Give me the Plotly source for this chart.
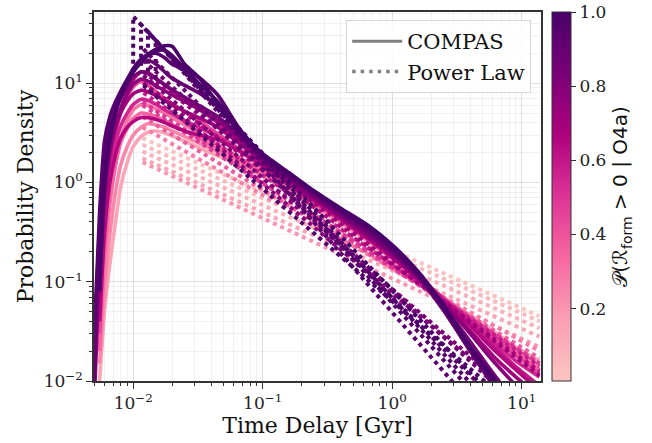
import plotly.graph_objects as go
from plotly.colors import sample_colorscale
import numpy as np

# ---------------- data ----------------
compas_t = [0.005, 0.0055, 0.006, 0.0066, 0.0073, 0.008, 0.009, 0.010, 0.0115, 0.013, 0.015,
            0.0175, 0.02, 0.025, 0.032, 0.045, 0.065, 0.1, 0.16, 0.25, 0.4, 0.65, 1.0, 1.6,
            2.5, 4.0, 6.0, 9.0, 13.7]

compas_prob = [0.15, 0.25, 0.30, 0.35, 0.45, 0.55, 0.60, 0.65, 0.70, 0.78, 0.85, 0.90, 0.95,
               0.98, 1.00]

compas_p = [
    # 0.15
    [None, 0.01, 0.05, 0.15, 0.4, 0.9, 1.6, 2.3, 2.9, 3.2, 3.3, 3.15, 2.95, 2.6, 2.25, 1.85, 1.5,
     1.15, 0.82, 0.57, 0.39, 0.255, 0.168, 0.107, 0.069, 0.046, 0.032, 0.022, 0.016],
    # 0.25
    [None, 0.015, 0.08, 0.3, 0.8, 1.5, 2.3, 3.0, 3.6, 3.9, 3.8, 3.6, 3.3, 2.9, 2.5, 2.05, 1.6,
     1.22, 0.86, 0.59, 0.40, 0.26, 0.17, 0.107, 0.068, 0.045, 0.030, 0.020, 0.014],
    # 0.30
    [None, 0.02, 0.15, 0.6, 1.5, 2.8, 4.2, 5.4, 6.1, 6.0, 5.5, 5.0, 4.5, 3.8, 3.1, 2.4, 1.8,
     1.32, 0.91, 0.62, 0.41, 0.265, 0.172, 0.108, 0.068, 0.044, 0.029, 0.019, 0.013],
    # 0.35
    [None, 0.02, 0.2, 0.7, 1.5, 2.5, 3.5, 4.4, 5.0, 4.9, 4.6, 4.2, 3.8, 3.3, 2.8, 2.2, 1.7,
     1.3, 0.9, 0.61, 0.41, 0.265, 0.172, 0.108, 0.068, 0.044, 0.029, 0.019, 0.013],
    # 0.45
    [None, 0.03, 0.35, 1.3, 3.0, 5.0, 7.3, 9.2, 10.5, 9.6, 8.2, 7.0, 6.2, 5.2, 4.2, 3.1, 2.2,
     1.45, 0.96, 0.64, 0.42, 0.27, 0.178, 0.11, 0.068, 0.042, 0.027, 0.018, 0.012],
    # 0.55
    [None, 0.05, 0.4, 1.3, 2.5, 3.7, 5.0, 6.1, 6.9, 6.7, 6.1, 5.4, 4.9, 4.2, 3.6, 2.9, 2.1,
     1.45, 0.97, 0.64, 0.42, 0.27, 0.175, 0.108, 0.066, 0.040, 0.025, 0.016, 0.011],
    # 0.60
    [None, 0.06, 0.5, 1.6, 3.4, 5.5, 8.2, 10.8, 13.0, 12.8, 11.2, 9.6, 8.4, 6.8, 5.5, 4.0, 2.6,
     1.6, 1.03, 0.68, 0.45, 0.29, 0.185, 0.112, 0.066, 0.038, 0.023, 0.014, 0.009],
    # 0.65
    [None, 0.04, 0.3, 1.0, 1.9, 2.8, 3.6, 4.1, 4.5, 4.5, 4.3, 4.0, 3.7, 3.3, 3.0, 2.7, 2.1,
     1.5, 1.0, 0.66, 0.43, 0.27, 0.175, 0.105, 0.062, 0.036, 0.021, 0.013, 0.008],
    # 0.70
    [0.006, 0.15, 0.9, 2.2, 3.6, 5.0, 6.6, 7.8, 8.5, 8.2, 7.5, 6.7, 6.0, 5.2, 4.5, 3.6, 2.5,
     1.6, 1.02, 0.67, 0.44, 0.28, 0.18, 0.105, 0.06, 0.032, 0.018, 0.011, 0.007],
    # 0.78
    [None, 0.1, 0.7, 2.0, 3.8, 5.5, 7.8, 9.8, 11.0, 10.5, 9.4, 8.4, 7.6, 6.5, 5.5, 4.2, 2.8,
     1.7, 1.08, 0.70, 0.46, 0.29, 0.19, 0.11, 0.06, 0.03, 0.016, 0.009, 0.005],
    # 0.85
    [0.02, 0.35, 1.8, 3.5, 5.2, 7.0, 9.3, 11.5, 13.0, 12.5, 11.0, 9.6, 8.6, 7.2, 6.0, 4.6, 3.0,
     1.75, 1.1, 0.72, 0.47, 0.31, 0.195, 0.11, 0.056, 0.025, 0.012, 0.006, None],
    # 0.90
    [0.01, 0.25, 1.5, 3.5, 5.5, 7.5, 10.0, 13.0, 16.0, 17.0, 15.5, 13.0, 11.2, 9.5, 8.0, 5.8, 3.3,
     1.8, 1.15, 0.76, 0.50, 0.33, 0.205, 0.11, 0.051, 0.02, 0.009, None, None],
    # 0.95
    [0.03, 0.5, 2.6, 4.6, 6.5, 8.3, 11.0, 14.0, 17.5, 19.5, 20.0, 18.0, 15.5, 13.5, 11.5, 7.6, 3.6,
     1.85, 1.2, 0.80, 0.52, 0.35, 0.22, 0.118, 0.055, 0.022, 0.010, None, None],
    # 0.98
    [None, 0.15, 1.2, 3.0, 5.2, 7.6, 10.5, 13.0, 16.5, 19.0, 21.0, 21.5, 19.0, 14.0, 10.0, 6.5, 3.5,
     1.9, 1.22, 0.80, 0.53, 0.35, 0.225, 0.12, 0.055, 0.021, 0.010, None, None],
    # 1.00
    [None, 0.08, 0.9, 2.6, 5.0, 7.5, 10.5, 13.5, 17.0, 19.5, 22.0, 23.8, 23.5, 15.5, 11.5, 6.2, 3.3,
     1.95, 1.25, 0.82, 0.55, 0.37, 0.235, 0.125, 0.058, 0.022, 0.011, 0.005, None],
]

# power-law curves: [foot, peak, end] times and densities
pl_prob = [0.02, 0.06, 0.10, 0.15, 0.20, 0.28, 0.38, 0.48, 0.50, 0.58, 0.65, 0.72,
           0.78, 0.82, 0.86, 0.90, 0.93, 0.95, 0.97, 0.98, 1.00]
pl_t = [
    [0.0118, 0.0118, 13.7], [0.0118, 0.0118, 13.7], [0.0118, 0.0118, 13.7],
    [0.0118, 0.0118, 13.7], [0.0118, 0.0118, 13.7], [0.0118, 0.0118, 13.7],
    [0.0118, 0.0118, 13.7], [0.0118, 0.0118, 13.7], [0.0118, 0.0118, 13.7],
    [0.012, 0.012, 13.7], [0.012, 0.012, 13.7], [0.012, 0.012, 13.7],
    [0.012, 0.012, 13.7], [0.012, 0.012, 13.7], [0.012, 0.012, 13.7],
    [0.012, 0.012, 13.7], [0.0149, 0.0149, 13.7], [0.013, 0.013, 13.7],
    [0.0115, 0.0115, 13.7], [0.012, 0.012, 13.7], [0.0100, 0.0100, 13.7],
]
pl_p = [
    [2.8, 2.8, 0.045], [2.4, 2.4, 0.040], [2.05, 2.05, 0.034],
    [1.75, 1.75, 0.028], [1.6, 1.6, 0.022], [3.6, 3.6, 0.020],
    [4.6, 4.6, 0.017], [6.0, 6.0, 0.015], [6.5, 6.5, 0.015],
    [8.0, 8.0, 0.0141], [10.0, 10.0, 0.0125], [13.0, 13.0, 0.0114],
    [10.0, 10.0, 0.0043], [12.0, 12.0, 0.0045], [17.0, 17.0, 0.0036],
    [22.0, 22.0, 0.0023], [11.0, 27.0, 0.00097], [13.0, 33.0, 0.00138],
    [15.0, 39.0, 0.00167], [9.5, 9.5, 0.0033], [13.0, 47.0, 0.0022],
]

x_tickvals = [0.01, 0.1, 1, 10]
x_ticktext = ["10<sup>−2</sup>", "10<sup>−1</sup>", "10<sup>0</sup>", "10<sup>1</sup>"]
y_tickvals = [0.01, 0.1, 1, 10]
y_ticktext = ["10<sup>−2</sup>", "10<sup>−1</sup>", "10<sup>0</sup>", "10<sup>1</sup>"]
cbar_ticks = [0.2, 0.4, 0.6, 0.8, 1.0]
cbar_text = ["0.2", "0.4", "0.6", "0.8", "1.0"]

# ---------------- style ----------------
cscale = [[0.0, "#fcc5c0"], [0.1667, "#fa9fb5"], [0.3333, "#f768a1"], [0.5, "#dd3497"],
          [0.6667, "#ae017e"], [0.8333, "#7a0177"], [1.0, "#49006a"]]
CMIN, CMAX = 0.005, 1.0


def col(v):
    return sample_colorscale(cscale, [(v - CMIN) / (CMAX - CMIN)])[0]


serif = "DejaVu Serif"
fig = go.Figure()

items = [("c", v, i) for i, v in enumerate(compas_prob)] + [("p", v, i) for i, v in enumerate(pl_prob)]
items.sort(key=lambda a: a[1])
for kind, v, i in items:
    if kind == "c":
        fig.add_trace(go.Scatter(x=compas_t, y=compas_p[i], mode="lines",
                                 line=dict(color=col(v), width=3.6, shape="spline", smoothing=0.6),
                                 connectgaps=False, showlegend=False, hoverinfo="skip"))
    else:
        fig.add_trace(go.Scatter(x=pl_t[i], y=pl_p[i], mode="lines",
                                 line=dict(color=col(v), width=4, dash="4px,4px"),
                                 showlegend=False, hoverinfo="skip"))

fig.add_trace(go.Scatter(x=[None], y=[None], mode="lines", name="COMPAS",
                         line=dict(color="#808080", width=3)))
fig.add_trace(go.Scatter(x=[None], y=[None], mode="lines", name="Power Law",
                         line=dict(color="#808080", width=3.5, dash="3.5px,5px")))

fig.add_trace(go.Scatter(
    x=[0.01, 0.01], y=[1, 1], mode="markers", showlegend=False, hoverinfo="skip",
    marker=dict(size=0.1, opacity=0, color=[CMIN, CMAX], cmin=CMIN, cmax=CMAX,
                colorscale=cscale, showscale=True,
                colorbar=dict(x=1.0246, xanchor="left", xpad=0, y=0.5, yanchor="middle",
                              ypad=0, len=1, lenmode="fraction", thickness=19,
                              outlinewidth=1, outlinecolor="#333",
                              tickmode="array", tickvals=cbar_ticks, ticktext=cbar_text,
                              ticks="outside", ticklen=5, tickcolor="#333",
                              tickfont=dict(family=serif, size=17, color="#222"),
                              title=dict(text="𝒫(ℛ<sub>form</sub> > 0 | O4a)", side="right",
                                         font=dict(family="DejaVu Sans", size=20, color="#111"))))))

minor_x = [m * 10.0 ** k for k in range(-3, 2) for m in range(2, 10)]
minor_y = [m * 10.0 ** k for k in range(-2, 2) for m in range(2, 10)]

axis_common = dict(type="log", showline=True, linecolor="#333", linewidth=1.5, mirror=True,
                   ticks="outside", ticklen=6, tickwidth=1.2, tickcolor="#333",
                   tickfont=dict(family=serif, size=17, color="#222"),
                   showgrid=True, gridcolor="rgba(0,0,0,0.12)", gridwidth=1, zeroline=False,
                   tickmode="array")

fig.update_xaxes(**axis_common, range=[np.log10(0.00498), np.log10(14.1)],
                 tickvals=x_tickvals, ticktext=x_ticktext,
                 minor=dict(tickmode="array", tickvals=minor_x, ticks="outside", ticklen=3.5,
                            tickcolor="#333", showgrid=True, gridcolor="rgba(0,0,0,0.055)"),
                 title=dict(text="Time Delay [Gyr]", font=dict(family=serif, size=22, color="#111"),
                            standoff=4))
fig.update_yaxes(**axis_common, range=[-2, 1.717],
                 tickvals=y_tickvals, ticktext=y_ticktext,
                 minor=dict(tickmode="array", tickvals=minor_y, ticks="outside", ticklen=3.5,
                            tickcolor="#333", showgrid=True, gridcolor="rgba(0,0,0,0.055)"),
                 title=dict(text="Probability Density", font=dict(family=serif, size=22, color="#111"),
                            standoff=4))

fig.update_layout(width=652, height=443, margin=dict(l=94, r=111, t=10, b=60),
                  plot_bgcolor="white", paper_bgcolor="white",
                  legend=dict(x=0.978, y=0.978, xanchor="right", yanchor="top",
                              font=dict(family=serif, size=21, color="#111"),
                              bgcolor="rgba(255,255,255,0.85)", bordercolor="#d5d5d5",
                              borderwidth=1, itemwidth=50, tracegroupgap=0))

fig.write_html("out.html")
